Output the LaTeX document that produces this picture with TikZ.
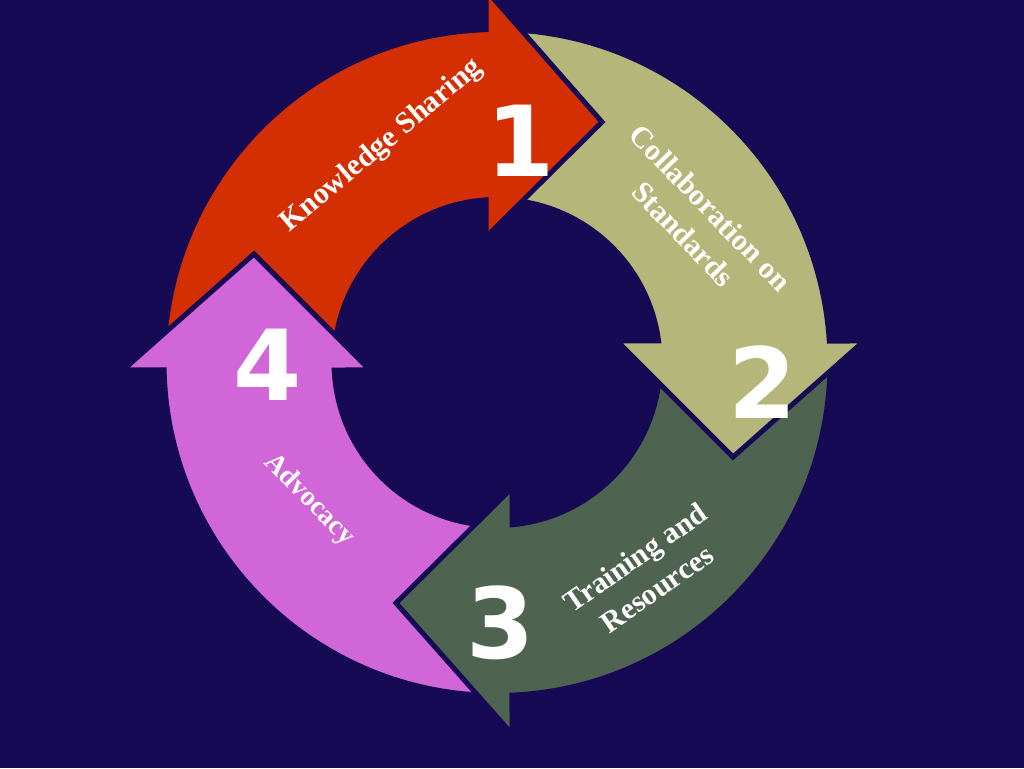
\documentclass[tikz,border=0pt]{standalone}
\usepackage{fontspec}
\setmainfont{Liberation Serif}
\newfontfamily\numfont{DejaVu Sans}
\definecolor{bg}{HTML}{170A55}
\definecolor{cred}{HTML}{D42E03}
\definecolor{colive}{HTML}{B5B679}
\definecolor{cgreen}{HTML}{4E6350}
\definecolor{corchid}{HTML}{D066D8}
\begin{document}
\begin{tikzpicture}[x=1pt,y=1pt,
  arrowshape/.style={draw=bg, line width=5pt, line join=miter},
  lbl/.style={text=white, font=\bfseries\fontsize{30}{38}\selectfont, align=center, inner sep=0pt},
  num/.style={text=white, font=\numfont\bfseries\fontsize{98}{98}\selectfont, inner sep=0pt}]
\fill[bg] (0,0) rectangle (1024,768);
\useasboundingbox (0,0) rectangle (1024,768);
% arrow 1 (full)
\path[arrowshape, fill=cred] ([shift={(497,405.5)}]176.99:333) arc[start angle=176.99, end angle=91.89, radius=333] -- (486,778) -- (602,646) -- (486,531) -- ([shift={(497,405.5)}]93.87:163) arc[start angle=93.87, end angle=173.84, radius=163] -- cycle;
% arrow 4
\path[arrowshape, fill=corchid] ([shift={(497,405.5)}]270.52:333) arc[start angle=270.52, end angle=181.29, radius=333] -- (123,398) -- (254,514) -- (370,398) -- ([shift={(497,405.5)}]182.64:163) arc[start angle=182.64, end angle=271.05, radius=163] -- cycle;
% arrow 3
\path[arrowshape, fill=cgreen] ([shift={(497,405.5)}]0.77:333) arc[start angle=0.77, end angle=-87.42, radius=333] -- (512,34) -- (396,165) -- (512,280) -- ([shift={(497,405.5)}]-84.72:163) arc[start angle=-84.72, end angle=1.58, radius=163] -- cycle;
% arrow 2
\path[arrowshape, fill=colive] ([shift={(497,405.5)}]87.76:333) arc[start angle=87.76, end angle=3.70, radius=333] -- (864,427) -- (733,311) -- (617,427) -- ([shift={(497,405.5)}]7.58:163) arc[start angle=7.58, end angle=85.43, radius=163] -- cycle;
% arrow 1 head redrawn on top
\begin{scope}
\clip (420,380) rectangle (700,800);
\path[arrowshape, fill=cred] ([shift={(497,405.5)}]176.99:333) arc[start angle=176.99, end angle=91.89, radius=333] -- (486,778) -- (602,646) -- (486,531) -- ([shift={(497,405.5)}]93.87:163) arc[start angle=93.87, end angle=173.84, radius=163] -- cycle;
\end{scope}
% labels
\node[lbl, rotate=40] (t1) at (382,622) {Knowledge Sharing};
\node[lbl, rotate=-46] (t2) at (697,547) {Collaboration on\\Standards};
\node[lbl, rotate=35] (t3) at (646,195) {Training and\\Resources};
\node[lbl, rotate=-45.5, font=\bfseries\fontsize{28}{34}\selectfont] (t4) at (309,268) {Advocacy};
% numbers
\node[num] (n1) at (521,627) {1};
\node[num] (n2) at (763,386) {2};
\node[num] (n3) at (501,145) {3};
\node[num] (n4) at (268,403) {4};
\end{tikzpicture}
\end{document}
